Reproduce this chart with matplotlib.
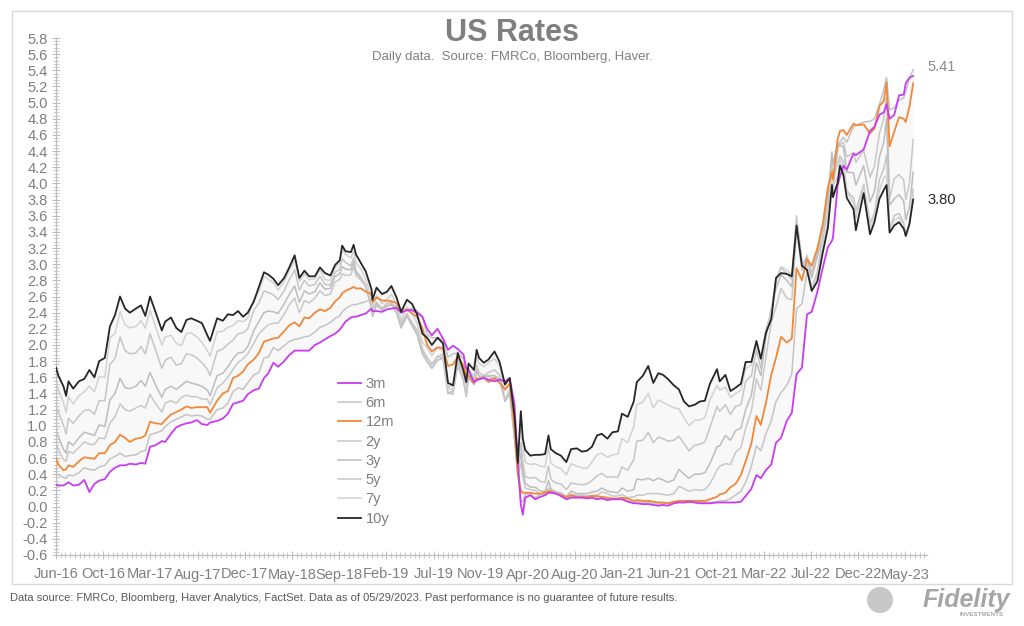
import matplotlib
matplotlib.use("Agg")
import matplotlib.pyplot as plt
import matplotlib.ticker as mticker
import matplotlib.dates as mdates
import numpy as np
import pandas as pd
from matplotlib.patches import Rectangle, Ellipse

# ── data (roughly twice a month) ───────────────────────────────────────
dates = [
    "2016-06-08", "2016-06-15", "2016-06-30", "2016-07-08", "2016-07-15", "2016-07-29",
    "2016-08-15", "2016-08-31", "2016-09-15", "2016-09-30", "2016-10-14", "2016-10-31",
    "2016-11-15", "2016-11-30", "2016-12-15", "2016-12-30",
    "2017-01-13", "2017-01-31", "2017-02-15", "2017-02-28", "2017-03-14", "2017-03-31",
    "2017-04-18", "2017-04-28", "2017-05-15", "2017-05-31", "2017-06-15", "2017-06-30",
    "2017-07-14", "2017-07-31", "2017-08-15", "2017-08-31", "2017-09-08", "2017-09-29",
    "2017-10-16", "2017-10-31", "2017-11-15", "2017-11-30", "2017-12-15", "2017-12-29",
    "2018-01-16", "2018-01-31", "2018-02-15", "2018-02-28", "2018-03-15", "2018-03-29",
    "2018-04-16", "2018-04-30", "2018-05-17", "2018-05-31", "2018-06-15", "2018-06-29",
    "2018-07-16", "2018-07-31", "2018-08-15", "2018-08-31", "2018-09-14", "2018-09-28",
    "2018-10-05", "2018-10-15", "2018-10-31", "2018-11-08", "2018-11-15", "2018-11-30",
    "2018-12-14", "2018-12-31",
    "2019-01-03", "2019-01-15", "2019-01-31", "2019-02-15", "2019-02-28", "2019-03-15",
    "2019-03-29", "2019-04-15", "2019-04-30", "2019-05-15", "2019-05-31", "2019-06-14",
    "2019-06-28", "2019-07-15", "2019-07-31", "2019-08-15", "2019-08-30", "2019-09-13",
    "2019-09-30", "2019-10-08", "2019-10-15", "2019-10-31", "2019-11-08", "2019-11-15",
    "2019-11-29", "2019-12-13", "2019-12-31",
    "2020-01-15", "2020-01-31", "2020-02-14", "2020-02-28", "2020-03-09", "2020-03-18",
    "2020-03-24", "2020-03-31", "2020-04-15", "2020-04-30", "2020-05-15", "2020-05-29",
    "2020-06-08", "2020-06-15", "2020-06-30", "2020-07-15", "2020-07-31", "2020-08-14",
    "2020-08-31", "2020-09-15", "2020-09-30", "2020-10-15", "2020-10-30", "2020-11-13",
    "2020-11-30", "2020-12-15", "2020-12-31",
    "2021-01-12", "2021-01-29", "2021-02-16", "2021-02-25", "2021-03-15", "2021-03-31",
    "2021-04-15", "2021-04-30", "2021-05-14", "2021-05-28", "2021-06-15", "2021-06-30",
    "2021-07-15", "2021-07-30", "2021-08-16", "2021-08-31", "2021-09-15", "2021-09-30",
    "2021-10-21", "2021-10-29", "2021-11-15", "2021-11-30", "2021-12-15", "2021-12-31",
    "2022-01-14", "2022-01-31", "2022-02-15", "2022-02-28", "2022-03-15", "2022-03-31",
    "2022-04-14", "2022-04-29", "2022-05-16", "2022-05-31", "2022-06-14", "2022-06-30",
    "2022-07-15", "2022-07-29", "2022-08-15", "2022-08-31", "2022-09-15", "2022-09-27",
    "2022-09-30", "2022-10-14", "2022-10-21", "2022-10-31", "2022-11-10", "2022-11-30",
    "2022-12-07", "2022-12-30",
    "2023-01-18", "2023-01-31", "2023-02-15", "2023-02-28", "2023-03-08", "2023-03-17",
    "2023-03-31", "2023-04-14", "2023-04-28", "2023-05-04", "2023-05-15", "2023-05-26",
]

r3m = [
    0.27, 0.26, 0.26, 0.28, 0.30, 0.26, 0.27, 0.33, 0.18, 0.28, 0.32, 0.34, 0.43, 0.48, 0.51, 0.51,
    0.53, 0.52, 0.54, 0.53, 0.74, 0.76, 0.81, 0.80, 0.90, 0.98, 1.01, 1.03, 1.04, 1.07, 1.02, 1.01,
    1.04, 1.06, 1.09, 1.15, 1.27, 1.29, 1.31, 1.39,
    1.44, 1.46, 1.59, 1.65, 1.78, 1.73, 1.80, 1.87, 1.93, 1.93, 1.93, 1.93, 2.00, 2.03, 2.07, 2.11,
    2.14, 2.19, 2.23, 2.29, 2.34, 2.35, 2.35, 2.37, 2.39, 2.45,
    2.42, 2.42, 2.41, 2.44, 2.45, 2.46, 2.40, 2.43, 2.43, 2.40, 2.35, 2.20, 2.12, 2.20, 2.08, 1.94,
    1.99, 1.95, 1.88, 1.71, 1.69, 1.54, 1.56, 1.58, 1.59, 1.57, 1.55,
    1.57, 1.55, 1.59, 1.27, 0.57, 0.02, -0.10, 0.11, 0.14, 0.09, 0.12, 0.14, 0.17, 0.17, 0.16, 0.13,
    0.09, 0.11, 0.11, 0.11, 0.10, 0.11, 0.09, 0.10, 0.08, 0.09, 0.09,
    0.09, 0.06, 0.04, 0.04, 0.03, 0.03, 0.02, 0.01, 0.02, 0.01, 0.04, 0.05, 0.05, 0.06, 0.05, 0.04,
    0.04, 0.04, 0.05, 0.05, 0.05, 0.05, 0.05, 0.06,
    0.13, 0.22, 0.39, 0.35, 0.45, 0.52, 0.79, 0.85, 1.06, 1.16, 1.64, 1.72, 2.38, 2.41, 2.66, 2.96,
    3.21, 3.29, 3.33, 3.98, 4.09, 4.22, 4.17, 4.37, 4.35, 4.42,
    4.65, 4.70, 4.85, 4.88, 4.98, 4.80, 4.85, 5.09, 5.10, 5.24, 5.31, 5.33,
]
r6m = [
    0.41, 0.39, 0.36, 0.35, 0.39, 0.38, 0.42, 0.48, 0.46, 0.45, 0.49, 0.51, 0.59, 0.62, 0.66, 0.62,
    0.63, 0.64, 0.68, 0.69, 0.89, 0.91, 0.94, 0.99, 1.05, 1.08, 1.11, 1.14, 1.12, 1.13, 1.12, 1.08,
    1.08, 1.20, 1.22, 1.28, 1.42, 1.47, 1.45, 1.53,
    1.63, 1.66, 1.84, 1.85, 1.97, 1.93, 1.99, 2.04, 2.07, 2.08, 2.10, 2.11, 2.16, 2.22, 2.24, 2.28,
    2.33, 2.36, 2.41, 2.45, 2.49, 2.50, 2.50, 2.52, 2.54, 2.56,
    2.50, 2.48, 2.46, 2.49, 2.50, 2.48, 2.44, 2.45, 2.45, 2.43, 2.35, 2.13, 2.09, 2.09, 2.06, 1.85,
    1.89, 1.90, 1.83, 1.70, 1.65, 1.57, 1.58, 1.58, 1.60, 1.57, 1.60,
    1.56, 1.54, 1.57, 1.11, 0.44, 0.06, 0.06, 0.15, 0.15, 0.11, 0.15, 0.18, 0.19, 0.18, 0.18, 0.15,
    0.11, 0.13, 0.13, 0.12, 0.11, 0.12, 0.11, 0.11, 0.09, 0.09, 0.09,
    0.10, 0.07, 0.05, 0.06, 0.05, 0.05, 0.04, 0.03, 0.04, 0.04, 0.05, 0.06, 0.05, 0.05, 0.06, 0.06,
    0.05, 0.05, 0.06, 0.07, 0.07, 0.10, 0.14, 0.19,
    0.30, 0.50, 0.75, 0.69, 0.90, 1.06, 1.30, 1.41, 1.50, 1.64, 2.45, 2.51, 2.90, 2.91, 3.11, 3.32,
    3.83, 3.93, 3.92, 4.41, 4.52, 4.57, 4.51, 4.70, 4.72, 4.76,
    4.77, 4.80, 4.98, 5.17, 5.31, 4.91, 4.94, 5.03, 5.06, 5.14, 5.30, 5.41,
]
r12m = [
    0.59, 0.52, 0.45, 0.46, 0.51, 0.49, 0.56, 0.61, 0.60, 0.59, 0.66, 0.66, 0.76, 0.80, 0.89, 0.85,
    0.80, 0.84, 0.85, 0.88, 1.05, 1.03, 1.02, 1.07, 1.14, 1.17, 1.20, 1.24, 1.22, 1.23, 1.23, 1.23,
    1.16, 1.31, 1.40, 1.43, 1.59, 1.62, 1.67, 1.76,
    1.82, 1.90, 2.04, 2.06, 2.08, 2.09, 2.17, 2.24, 2.28, 2.23, 2.34, 2.33, 2.40, 2.44, 2.42, 2.46,
    2.54, 2.59, 2.64, 2.67, 2.70, 2.72, 2.70, 2.70, 2.66, 2.63,
    2.53, 2.59, 2.55, 2.55, 2.54, 2.52, 2.40, 2.44, 2.39, 2.35, 2.21, 2.00, 1.92, 1.97, 1.96, 1.74,
    1.76, 1.85, 1.75, 1.62, 1.62, 1.53, 1.59, 1.57, 1.60, 1.54, 1.59,
    1.53, 1.45, 1.52, 1.00, 0.40, 0.20, 0.17, 0.17, 0.17, 0.16, 0.16, 0.17, 0.19, 0.19, 0.16, 0.14,
    0.12, 0.14, 0.12, 0.12, 0.12, 0.13, 0.13, 0.12, 0.11, 0.10, 0.10,
    0.11, 0.10, 0.07, 0.08, 0.07, 0.07, 0.06, 0.05, 0.05, 0.04, 0.06, 0.07, 0.07, 0.07, 0.07, 0.07,
    0.07, 0.09, 0.12, 0.15, 0.17, 0.24, 0.28, 0.39,
    0.56, 0.78, 1.12, 1.01, 1.28, 1.63, 1.84, 2.10, 2.03, 2.08, 2.95, 2.80, 3.06, 2.98, 3.20, 3.50,
    3.95, 4.14, 4.05, 4.55, 4.65, 4.66, 4.60, 4.74, 4.72, 4.73,
    4.62, 4.68, 4.96, 5.02, 5.25, 4.46, 4.64, 4.82, 4.80, 4.76, 4.95, 5.24,
]
r2y = [
    0.77, 0.71, 0.58, 0.56, 0.68, 0.66, 0.73, 0.80, 0.77, 0.77, 0.85, 0.84, 1.03, 1.11, 1.27, 1.20,
    1.18, 1.22, 1.25, 1.22, 1.39, 1.27, 1.17, 1.28, 1.31, 1.28, 1.35, 1.38, 1.36, 1.36, 1.33, 1.33,
    1.26, 1.47, 1.53, 1.60, 1.70, 1.78, 1.83, 1.89,
    2.02, 2.14, 2.20, 2.25, 2.27, 2.27, 2.38, 2.49, 2.58, 2.40, 2.55, 2.52, 2.58, 2.67, 2.61, 2.63,
    2.78, 2.81, 2.88, 2.86, 2.87, 2.97, 2.86, 2.80, 2.73, 2.48,
    2.39, 2.53, 2.45, 2.52, 2.52, 2.44, 2.27, 2.39, 2.27, 2.19, 1.95, 1.84, 1.75, 1.85, 1.89, 1.48,
    1.50, 1.80, 1.63, 1.42, 1.61, 1.52, 1.68, 1.61, 1.61, 1.61, 1.58,
    1.56, 1.33, 1.43, 0.86, 0.38, 0.54, 0.37, 0.23, 0.21, 0.20, 0.15, 0.16, 0.23, 0.19, 0.16, 0.15,
    0.11, 0.15, 0.14, 0.14, 0.13, 0.14, 0.14, 0.18, 0.16, 0.13, 0.13,
    0.15, 0.11, 0.12, 0.14, 0.14, 0.16, 0.16, 0.16, 0.15, 0.14, 0.16, 0.25, 0.22, 0.19, 0.21, 0.20,
    0.21, 0.28, 0.45, 0.50, 0.53, 0.52, 0.67, 0.73,
    0.97, 1.18, 1.58, 1.44, 1.85, 2.28, 2.47, 2.70, 2.58, 2.56, 3.43, 2.92, 3.11, 2.89, 3.19, 3.45,
    3.87, 4.29, 4.22, 4.50, 4.48, 4.51, 4.33, 4.38, 4.26, 4.41,
    4.08, 4.21, 4.62, 4.81, 5.07, 3.81, 4.06, 4.11, 4.04, 3.80, 4.00, 4.54,
]
r3y = [
    0.93, 0.87, 0.71, 0.66, 0.80, 0.76, 0.85, 0.92, 0.90, 0.88, 1.01, 0.99, 1.32, 1.40, 1.59, 1.47,
    1.46, 1.49, 1.56, 1.49, 1.66, 1.50, 1.35, 1.45, 1.49, 1.45, 1.50, 1.55, 1.53, 1.51, 1.49, 1.44,
    1.37, 1.62, 1.65, 1.73, 1.83, 1.90, 1.91, 1.98,
    2.18, 2.29, 2.40, 2.42, 2.41, 2.39, 2.51, 2.62, 2.73, 2.53, 2.67, 2.63, 2.66, 2.77, 2.69, 2.70,
    2.85, 2.88, 2.97, 2.94, 2.93, 3.03, 2.89, 2.83, 2.72, 2.46,
    2.35, 2.50, 2.43, 2.48, 2.50, 2.40, 2.21, 2.36, 2.24, 2.13, 1.89, 1.79, 1.71, 1.81, 1.84, 1.40,
    1.43, 1.77, 1.56, 1.37, 1.59, 1.51, 1.70, 1.61, 1.61, 1.62, 1.62,
    1.58, 1.30, 1.40, 0.85, 0.43, 0.66, 0.44, 0.29, 0.24, 0.24, 0.19, 0.19, 0.32, 0.22, 0.18, 0.17,
    0.12, 0.19, 0.16, 0.16, 0.16, 0.18, 0.19, 0.23, 0.19, 0.18, 0.17,
    0.23, 0.19, 0.21, 0.34, 0.33, 0.35, 0.32, 0.35, 0.33, 0.30, 0.33, 0.46, 0.40, 0.35, 0.40, 0.40,
    0.42, 0.53, 0.74, 0.75, 0.88, 0.82, 0.94, 0.97,
    1.20, 1.38, 1.78, 1.62, 2.09, 2.45, 2.70, 2.87, 2.80, 2.72, 3.54, 2.99, 3.08, 2.83, 3.10, 3.50,
    3.83, 4.39, 4.25, 4.46, 4.47, 4.45, 4.14, 4.13, 3.98, 4.22,
    3.77, 3.90, 4.33, 4.51, 4.80, 3.73, 3.81, 3.86, 3.78, 3.55, 3.71, 4.14,
]
r5y = [
    1.24, 1.17, 1.01, 0.90, 1.09, 1.03, 1.12, 1.19, 1.20, 1.14, 1.31, 1.31, 1.76, 1.83, 2.10, 1.93,
    1.89, 1.90, 1.98, 1.89, 2.14, 1.93, 1.71, 1.81, 1.85, 1.75, 1.77, 1.89, 1.88, 1.84, 1.78, 1.70,
    1.62, 1.92, 1.95, 2.01, 2.06, 2.14, 2.15, 2.20,
    2.43, 2.52, 2.67, 2.65, 2.62, 2.56, 2.67, 2.80, 2.93, 2.68, 2.80, 2.73, 2.75, 2.85, 2.75, 2.74,
    2.90, 2.94, 3.07, 3.02, 2.98, 3.08, 2.92, 2.84, 2.73, 2.51,
    2.37, 2.52, 2.43, 2.48, 2.52, 2.42, 2.23, 2.37, 2.28, 2.15, 1.93, 1.84, 1.76, 1.86, 1.84, 1.40,
    1.39, 1.75, 1.55, 1.36, 1.62, 1.51, 1.75, 1.66, 1.62, 1.66, 1.69,
    1.63, 1.32, 1.43, 0.89, 0.46, 0.79, 0.55, 0.37, 0.35, 0.36, 0.31, 0.30, 0.50, 0.34, 0.29, 0.28,
    0.21, 0.29, 0.28, 0.27, 0.28, 0.32, 0.38, 0.41, 0.36, 0.37, 0.36,
    0.49, 0.45, 0.58, 0.81, 0.82, 0.92, 0.79, 0.86, 0.84, 0.81, 0.82, 0.87, 0.78, 0.69, 0.76, 0.77,
    0.80, 0.98, 1.24, 1.18, 1.26, 1.14, 1.24, 1.26,
    1.55, 1.62, 1.94, 1.71, 2.16, 2.42, 2.79, 2.96, 2.88, 2.81, 3.60, 3.01, 2.98, 2.70, 2.91, 3.35,
    3.63, 4.21, 4.06, 4.25, 4.34, 4.27, 3.91, 3.82, 3.66, 3.99,
    3.51, 3.63, 4.05, 4.18, 4.35, 3.44, 3.60, 3.63, 3.51, 3.35, 3.50, 3.93,
]
r7y = [
    1.54, 1.45, 1.29, 1.16, 1.36, 1.27, 1.37, 1.42, 1.49, 1.42, 1.61, 1.60, 2.09, 2.14, 2.41, 2.25,
    2.21, 2.23, 2.30, 2.21, 2.43, 2.22, 2.00, 2.10, 2.12, 2.02, 1.99, 2.14, 2.15, 2.10, 2.03, 1.93,
    1.86, 2.16, 2.17, 2.22, 2.24, 2.30, 2.29, 2.33,
    2.57, 2.66, 2.85, 2.81, 2.77, 2.68, 2.79, 2.91, 3.06, 2.79, 2.88, 2.81, 2.82, 2.93, 2.81, 2.80,
    2.96, 3.01, 3.18, 3.12, 3.08, 3.16, 3.02, 2.94, 2.81, 2.59,
    2.44, 2.61, 2.51, 2.56, 2.63, 2.50, 2.31, 2.47, 2.39, 2.27, 2.03, 1.97, 1.87, 1.97, 1.92, 1.46,
    1.45, 1.83, 1.62, 1.45, 1.71, 1.60, 1.86, 1.77, 1.73, 1.78, 1.83,
    1.74, 1.44, 1.53, 1.03, 0.58, 1.04, 0.75, 0.55, 0.52, 0.53, 0.50, 0.49, 0.74, 0.54, 0.49, 0.47,
    0.39, 0.53, 0.50, 0.48, 0.47, 0.55, 0.64, 0.66, 0.61, 0.64, 0.65,
    0.84, 0.79, 0.99, 1.26, 1.29, 1.40, 1.22, 1.32, 1.29, 1.26, 1.22, 1.21, 1.10, 1.00, 1.07, 1.07,
    1.10, 1.32, 1.50, 1.44, 1.48, 1.35, 1.40, 1.44,
    1.71, 1.75, 2.01, 1.81, 2.20, 2.40, 2.82, 2.97, 2.93, 2.87, 3.55, 3.04, 2.99, 2.70, 2.86, 3.26,
    3.53, 4.07, 3.97, 4.08, 4.30, 4.18, 3.89, 3.76, 3.57, 3.96,
    3.44, 3.59, 3.91, 4.07, 4.10, 3.42, 3.55, 3.58, 3.49, 3.35, 3.51, 3.85,
]
r10y = [
    1.72, 1.62, 1.49, 1.37, 1.55, 1.46, 1.55, 1.58, 1.69, 1.60, 1.80, 1.84, 2.23, 2.37, 2.60, 2.45,
    2.40, 2.45, 2.49, 2.36, 2.60, 2.40, 2.18, 2.29, 2.34, 2.21, 2.16, 2.31, 2.33, 2.30, 2.27, 2.12,
    2.05, 2.33, 2.30, 2.38, 2.37, 2.42, 2.35, 2.40,
    2.54, 2.72, 2.90, 2.87, 2.82, 2.74, 2.83, 2.95, 3.11, 2.83, 2.92, 2.85, 2.85, 2.96, 2.89, 2.86,
    2.99, 3.05, 3.23, 3.16, 3.15, 3.24, 3.12, 3.01, 2.91, 2.69,
    2.56, 2.71, 2.63, 2.66, 2.73, 2.59, 2.41, 2.56, 2.51, 2.38, 2.14, 2.09, 2.00, 2.09, 2.02, 1.53,
    1.50, 1.90, 1.68, 1.54, 1.77, 1.69, 1.94, 1.84, 1.78, 1.82, 1.92,
    1.79, 1.51, 1.59, 1.13, 0.54, 1.18, 0.84, 0.70, 0.63, 0.64, 0.64, 0.65, 0.88, 0.71, 0.66, 0.63,
    0.55, 0.71, 0.72, 0.68, 0.69, 0.74, 0.88, 0.90, 0.84, 0.92, 0.93,
    1.15, 1.11, 1.30, 1.54, 1.62, 1.74, 1.53, 1.65, 1.63, 1.58, 1.50, 1.45, 1.30, 1.24, 1.26, 1.30,
    1.31, 1.52, 1.70, 1.55, 1.63, 1.43, 1.47, 1.52,
    1.79, 1.79, 2.05, 1.83, 2.15, 2.32, 2.83, 2.89, 2.88, 2.85, 3.48, 2.98, 2.93, 2.67, 2.79, 3.15,
    3.45, 3.98, 3.83, 4.01, 4.22, 4.10, 3.82, 3.68, 3.42, 3.88,
    3.37, 3.52, 3.81, 3.92, 3.98, 3.39, 3.48, 3.52, 3.44, 3.35, 3.50, 3.80,
]

labels = ["3m", "6m", "12m", "2y", "3y", "5y", "7y", "10y"]
colors = ["#C83CF0", "#C4C4C4", "#F0883A", "#C8C8C8", "#BDBDBD", "#C6C6C6", "#D2D2D2", "#262626"]
zorders = [4, 2, 3, 2, 2, 2, 2, 5]

# ── figure ─────────────────────────────────────────────────────────────
W, H = 1024, 626
plt.rcParams["font.family"] = ["Liberation Sans", "DejaVu Sans"]
fig = plt.figure(figsize=(W / 100, H / 100), dpi=100)
fig.add_artist(Rectangle((12 / W, 1 - 584 / H), 1000 / W, 573 / H, transform=fig.transFigure,
                         fill=False, edgecolor="#D9D9D9", linewidth=1.0))

ax = fig.add_axes([56 / W, 1 - 555 / H, (927 - 56) / W, (555 - 38) / H])
x = pd.to_datetime(dates)
series = [r3m, r6m, r12m, r2y, r3y, r5y, r7y, r10y]

# faint band behind the curve family
allv = np.array(series)
ax.fill_between(x, allv.min(axis=0), allv.max(axis=0), color="#F8F8F8", linewidth=0, zorder=1)

handles = []
for vals, lab, c, z in zip(series, labels, colors, zorders):
    lw = 1.3 if lab in ("3m", "12m", "10y") else 1.1
    (ln,) = ax.plot(x, vals, color=c, linewidth=lw, label=lab, zorder=z)
    handles.append(ln)

start = pd.Timestamp("2016-06-08")
ax.set_xlim(start, pd.Timestamp("2023-07-06"))
ax.set_ylim(-0.6, 5.8)

major_dates = pd.date_range(start, periods=19, freq="140D")
ax.xaxis.set_major_locator(mticker.FixedLocator(mdates.date2num(major_dates)))
ax.xaxis.set_major_formatter(mdates.DateFormatter("%b-%y"))
ax.xaxis.set_minor_locator(mticker.FixedLocator(
    mdates.date2num(pd.date_range(start, pd.Timestamp("2023-07-06"), freq="14D"))))

yt = np.round(np.arange(-0.6, 5.81, 0.2), 1)
ax.yaxis.set_major_locator(mticker.FixedLocator(yt))
ax.yaxis.set_major_formatter(mticker.FuncFormatter(lambda v, _: f"{round(v, 1) + 0.0:.1f}"))
ax.yaxis.set_minor_locator(mticker.MultipleLocator(0.04))

for s in ["top", "right"]:
    ax.spines[s].set_visible(False)
for s in ["left", "bottom"]:
    ax.spines[s].set_color("#BFBFBF")
    ax.spines[s].set_linewidth(0.9)
ax.tick_params(which="major", direction="inout", length=6, width=0.8, color="#BFBFBF",
               labelsize=10.5, labelcolor="#7F7F7F", pad=3)
ax.tick_params(which="minor", direction="inout", length=4, width=0.6, color="#BFBFBF")
ax.tick_params(axis="x", pad=6)

leg = fig.legend(handles=handles, labels=labels, loc="upper left",
                 bbox_to_anchor=(338 / W, 1 - 377 / H), bbox_transform=fig.transFigure,
                 frameon=False, fontsize=10.5, handlelength=1.6, handletextpad=0.3,
                 labelspacing=0.36, borderpad=0, borderaxespad=0)
for t in leg.get_texts():
    t.set_color("#7F7F7F")

# end labels
ax.annotate("5.41", xy=(x[-1], 5.41), xytext=(10, 2), textcoords="offset points",
            fontsize=10.5, color="#8C8C8C", va="center")
ax.annotate("3.80", xy=(x[-1], 3.80), xytext=(10, 0), textcoords="offset points",
            fontsize=10.5, color="#262626", va="center")

# titles
fig.text(512 / W, 1 - 33 / H, "US Rates", ha="center", va="center", fontsize=22,
         fontweight="bold", color="#7F7F7F")
fig.text(512 / W, 1 - 57 / H, "Daily data.  Source: FMRCo, Bloomberg, Haver.", ha="center",
         va="center", fontsize=9.5, color="#808080")

# footer
fig.text(10 / W, 1 - 598 / H,
         "Data source: FMRCo, Bloomberg, Haver Analytics, FactSet. Data as of 05/29/2023. "
         "Past performance is no guarantee of future results.",
         ha="left", va="center", fontsize=8, color="#595959",
         family=["Liberation Sans Narrow", "Liberation Sans", "DejaVu Sans"])
fig.add_artist(Ellipse((880 / W, 1 - 600 / H), 26 / W, 26 / H, transform=fig.transFigure,
                       facecolor="#C8C8C8", edgecolor="none"))
fig.text(1010 / W, 1 - 600 / H, "Fidelity", ha="right", va="center", fontsize=18,
         fontweight="bold", style="italic", color="#A6A6A6")
fig.text(1004 / W, 1 - 615 / H, "INVESTMENTS", ha="right", va="center", fontsize=4.5,
         color="#A6A6A6", fontweight="bold")

fig.savefig("out.png", dpi=100)
